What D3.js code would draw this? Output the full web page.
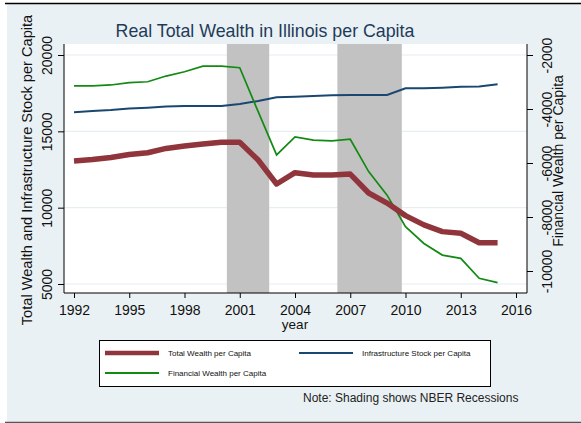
<!DOCTYPE html>
<html>
<head>
<meta charset="utf-8">
<script src="https://cdn.jsdelivr.net/npm/d3@7"></script>
<style>
  body { margin: 0; background: #ffffff; }
  svg text { font-family: Arial, "Liberation Sans", sans-serif; }
</style>
</head>
<body>
<div id="chart"></div>
<script>
  "use strict";

  var years = [1992, 1993, 1994, 1995, 1996, 1997, 1998, 1999, 2000, 2001, 2002, 2003,
    2004, 2005, 2006, 2007, 2008, 2009, 2010, 2011, 2012, 2013, 2014, 2015];
  var totalWealth = [13060, 13150, 13290, 13480, 13600, 13880, 14040, 14170, 14280, 14280, 13120, 11550,
    12290, 12140, 12140, 12200, 10960, 10300, 9480, 8870, 8430, 8320, 7700, 7700];
  var infrastructure = [16250, 16330, 16400, 16500, 16550, 16620, 16660, 16660, 16660, 16790, 16990, 17230,
    17270, 17320, 17360, 17380, 17380, 17380, 17820, 17820, 17860, 17920, 17940, 18080];
  var financialWealth = [-3140, -3140, -3110, -3025, -2990, -2780, -2620, -2410, -2410, -2470, -4100, -5700,
    -5030, -5150, -5180, -5120, -6320, -7190, -8360, -8980, -9410, -9530, -10270, -10430];
  var recessions = [[2000.3, 2002.6], [2006.3, 2009.8]];
  var xTicks = [1992, 1995, 1998, 2001, 2004, 2007, 2010, 2013, 2016];
  var leftTicks = [5000, 10000, 15000, 20000];
  var rightTicks = [-10000, -8000, -6000, -4000, -2000];

  var width = 581, height = 423;
  var plot = { left: 64, right: 527, top: 44, bottom: 293 };

  // plain numbers, ascii minus like the original
  function plain(d) { return String(d); }

  var svg = d3.select('#chart').append('svg')
    .attr('width', width)
    .attr('height', height);

  // outer background
  svg.append('rect')
    .attr('x', 7).attr('y', 3)
    .attr('width', width - 7).attr('height', height - 3)
    .attr('fill', '#eaf1f4');
  svg.append('line')
    .attr('x1', 5).attr('x2', width).attr('y1', 3.5).attr('y2', 3.5)
    .attr('stroke', '#000').attr('stroke-width', 1.5);
  svg.append('line')
    .attr('x1', 5).attr('x2', width).attr('y1', 422.5).attr('y2', 422.5)
    .attr('stroke', '#555').attr('stroke-width', 1.5);

  var x = d3.scaleLinear().domain([1992, 2016]).range([74, 516]);
  var yLeft = d3.scaleLinear().domain([5000, 20000]).range([284, 55]);
  var yRight = d3.scaleLinear().domain([-10000, -2000]).range([271, 55]);

  // plot region
  svg.append('rect')
    .attr('x', plot.left).attr('y', plot.top)
    .attr('width', plot.right - plot.left).attr('height', plot.bottom - plot.top)
    .attr('fill', '#ffffff');

  svg.append('g').selectAll('line')
    .data(leftTicks)
    .enter().append('line')
    .attr('x1', plot.left).attr('x2', plot.right)
    .attr('y1', function(d) { return yLeft(d); })
    .attr('y2', function(d) { return yLeft(d); })
    .attr('stroke', '#e6eef1')
    .attr('stroke-width', 1.2);

  svg.append('g').selectAll('rect')
    .data(recessions)
    .enter().append('rect')
    .attr('x', function(d) { return x(d[0]); })
    .attr('width', function(d) { return x(d[1]) - x(d[0]); })
    .attr('y', plot.top)
    .attr('height', plot.bottom - plot.top)
    .attr('fill', '#c2c2c2');

  function lineFor(values, scale) {
    return d3.line()
      .x(function(d, i) { return x(years[i]); })
      .y(function(d) { return scale(d); })(values);
  }

  svg.append('path')
    .attr('d', lineFor(infrastructure, yLeft))
    .attr('fill', 'none')
    .attr('stroke', '#1a476f')
    .attr('stroke-width', 2);

  svg.append('path')
    .attr('d', lineFor(financialWealth, yRight))
    .attr('fill', 'none')
    .attr('stroke', '#138a13')
    .attr('stroke-width', 1.7);

  svg.append('path')
    .attr('d', lineFor(totalWealth, yLeft))
    .attr('fill', 'none')
    .attr('stroke', '#90353b')
    .attr('stroke-width', 5.5)
    .attr('stroke-linejoin', 'round');

  // axes
  var xAxis = d3.axisBottom(x).tickValues(xTicks).tickFormat(plain).tickSize(5).tickSizeOuter(0);
  var gx = svg.append('g')
    .attr('transform', 'translate(0,' + plot.bottom + ')')
    .call(xAxis);
  gx.select('.domain').remove();
  gx.selectAll('text').attr('font-size', 14).attr('fill', '#111').attr('dy', '0.98em');
  svg.append('line')
    .attr('x1', plot.left).attr('x2', plot.right)
    .attr('y1', plot.bottom).attr('y2', plot.bottom)
    .attr('stroke', '#000');

  var gl = svg.append('g')
    .attr('transform', 'translate(' + plot.left + ',0)')
    .call(d3.axisLeft(yLeft).tickValues(leftTicks).tickFormat(plain).tickSize(6).tickSizeOuter(0));
  gl.select('.domain').attr('d', 'M0,' + plot.top + 'V' + plot.bottom);
  gl.selectAll('.tick text')
    .attr('font-size', 14).attr('fill', '#111')
    .attr('x', null).attr('dy', null)
    .attr('text-anchor', 'middle')
    .attr('transform', 'translate(-12,0) rotate(-90)');

  var gr = svg.append('g')
    .attr('transform', 'translate(' + plot.right + ',0)')
    .call(d3.axisRight(yRight).tickValues(rightTicks).tickFormat(plain).tickSize(6).tickSizeOuter(0));
  gr.select('.domain').attr('d', 'M0,' + plot.top + 'V' + plot.bottom);
  gr.selectAll('.tick text')
    .attr('font-size', 14).attr('fill', '#111')
    .attr('x', null).attr('dy', null)
    .attr('text-anchor', 'middle')
    .attr('transform', 'translate(25,0) rotate(-90)');

  // titles
  svg.append('text')
    .attr('x', 265).attr('y', 37)
    .attr('text-anchor', 'middle')
    .attr('font-size', 17.8)
    .attr('fill', '#1f3b5a')
    .text('Real Total Wealth in Illinois per Capita');

  svg.append('text')
    .attr('x', 295).attr('y', 329)
    .attr('text-anchor', 'middle')
    .attr('font-size', 13.5)
    .attr('fill', '#111')
    .text('year');

  svg.append('text')
    .attr('transform', 'translate(32,170) rotate(-90)')
    .attr('text-anchor', 'middle')
    .attr('font-size', 14.6)
    .attr('fill', '#111')
    .text('Total Wealth and Infrastructure Stock per Capita');

  svg.append('text')
    .attr('transform', 'translate(563,161) rotate(-90)')
    .attr('text-anchor', 'middle')
    .attr('font-size', 14)
    .attr('fill', '#111')
    .text('Financial Wealth per Capita');

  // legend
  var legendItems = [
    { name: 'Total Wealth per Capita', color: '#90353b', w: 4.5, x: 105, y: 353 },
    { name: 'Infrastructure Stock per Capita', color: '#1a476f', w: 2, x: 299, y: 353 },
    { name: 'Financial Wealth per Capita', color: '#138a13', w: 2, x: 105, y: 373 }
  ];
  svg.append('rect')
    .attr('x', 99.5).attr('y', 340.5)
    .attr('width', 391).attr('height', 46)
    .attr('fill', '#fff')
    .attr('stroke', '#000');
  var li = svg.append('g').selectAll('g')
    .data(legendItems)
    .enter().append('g');
  li.append('line')
    .attr('x1', function(d) { return d.x; })
    .attr('x2', function(d) { return d.x + 54; })
    .attr('y1', function(d) { return d.y; })
    .attr('y2', function(d) { return d.y; })
    .attr('stroke', function(d) { return d.color; })
    .attr('stroke-width', function(d) { return d.w; });
  li.append('text')
    .attr('x', function(d) { return d.x + 63; })
    .attr('y', function(d) { return d.y + 3; })
    .attr('font-size', 8)
    .attr('fill', '#111')
    .text(function(d) { return d.name; });

  svg.append('text')
    .attr('x', 303).attr('y', 402)
    .attr('font-size', 12)
    .attr('fill', '#222')
    .text('Note: Shading shows NBER Recessions');
</script>
</body>
</html>
